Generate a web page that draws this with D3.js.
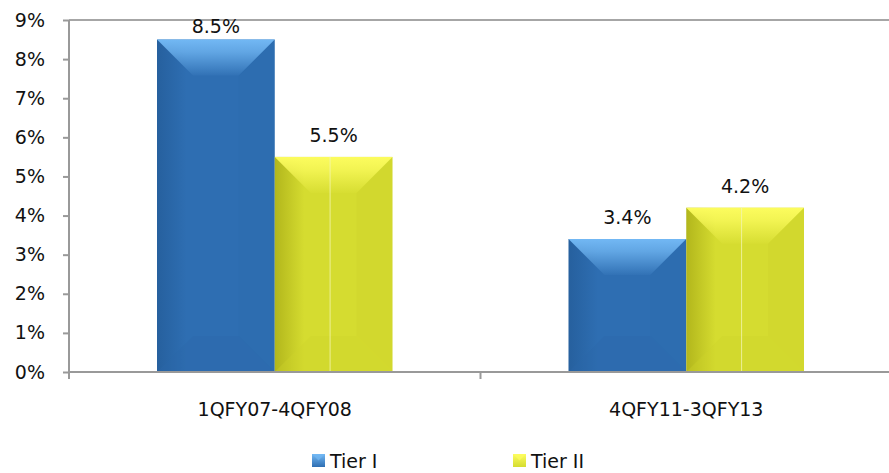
<!DOCTYPE html>
<html><head><meta charset="utf-8">
<script src="https://cdn.jsdelivr.net/npm/d3@7"></script>
<style>body{margin:0;background:#fff}svg{display:block}text{font-family:"DejaVu Sans",sans-serif;fill:#111}</style>
</head><body><svg id="c" width="889" height="473"></svg>
<script>
const categories = ["1QFY07-4QFY08", "4QFY11-3QFY13"];
const series = ["Tier I", "Tier II"];
const tierI = [8.5, 3.4];
const tierII = [5.5, 4.2];
const yTicks = [0,1,2,3,4,5,6,7,8,9];

(function(){
const svg = d3.select("#c");
const W = 889, H = 473;
const mL = 69, mR = 892, mT = 20, mB = 372;
const fs = 19;

const y = d3.scaleLinear().domain([0, 9]).range([mB, mT]);
const x0 = d3.scaleBand().domain(categories).range([mL, mR]).padding(0);
const x1 = d3.scaleBand().domain(series).range([88, x0.bandwidth() - 88]).padding(0);

const defs = svg.append("defs");
const pal = {
  "Tier I": {main:"#2e6eb2", dark:"#26609e", light:"#72b8f4", bot:"#2a66a8"},
  "Tier II": {main:"#d5dc30", dark:"#b2b61c", light:"#fcfc5e", bot:"#cfd42c"}
};
series.forEach((s,i)=>{
  const c = pal[s];
  const h = defs.append("linearGradient").attr("id","h"+i).attr("x1","0").attr("x2","1").attr("y1","0").attr("y2","0");
  h.append("stop").attr("offset","0").attr("stop-color",c.dark);
  h.append("stop").attr("offset","0.25").attr("stop-color",c.main);
  h.append("stop").attr("offset","1").attr("stop-color",c.main);
  const v = defs.append("linearGradient").attr("id","v"+i).attr("x1","0").attr("x2","0").attr("y1","0").attr("y2","1");
  v.append("stop").attr("offset","0").attr("stop-color",c.light).attr("stop-opacity",1);
  v.append("stop").attr("offset","0.35").attr("stop-color",c.light).attr("stop-opacity",0.75);
  v.append("stop").attr("offset","1").attr("stop-color",c.light).attr("stop-opacity",0.05);
  const lg = defs.append("linearGradient").attr("id","lg"+i).attr("x1","0").attr("x2","0").attr("y1","0").attr("y2","1");
  lg.append("stop").attr("offset","0").attr("stop-color",c.light);
  lg.append("stop").attr("offset","1").attr("stop-color",c.main);
});

svg.append("line").attr("x1", mL).attr("x2", W).attr("y1", mT).attr("y2", mT)
  .attr("stroke", "#a6a6a6").attr("stroke-width", 2);

const yAxis = d3.axisLeft(y).tickValues(yTicks).tickFormat(d => d + "%").tickSize(6).tickPadding(18);
const ga = svg.append("g").attr("transform", `translate(${mL},0)`).call(yAxis);
ga.select(".domain").remove();
ga.selectAll(".tick line").attr("stroke", "#999").attr("stroke-width", 2);
ga.selectAll(".tick text").attr("font-size", fs).attr("font-family", "DejaVu Sans").attr("fill", "#111");
svg.append("line").attr("x1", mL).attr("x2", mL).attr("y1", mT).attr("y2", mB + 7)
  .attr("stroke", "#999").attr("stroke-width", 2);

const data = [tierI, tierII];
const gBars = svg.append("g");
categories.forEach((cat, ci) => {
  series.forEach((s, si) => {
    const v = data[si][ci];
    const bx = x0(cat) + x1(s), bw = x1.bandwidth();
    const by = y(v), bh = y(0) - y(v);
    const c = pal[s];
    const g = gBars.append("g");
    g.append("rect").attr("x", bx).attr("y", by).attr("width", bw).attr("height", bh).attr("fill", `url(#h${si})`);
    const d = Math.min(36, bh / 2, bw / 2);
    g.append("path").attr("d", `M${bx},${by}L${bx+bw},${by}L${bx+bw-d},${by+d}L${bx+d},${by+d}Z`)
      .attr("fill", `url(#v${si})`);
    g.append("path").attr("d", `M${bx},${by+bh}L${bx+bw},${by+bh}L${bx+bw-d},${by+bh-d}L${bx+d},${by+bh-d}Z`)
      .attr("fill", c.bot).attr("opacity", 0.35);
    g.append("path").attr("d", `M${bx+bw},${by}L${bx+bw},${by+bh}L${bx+bw-d},${by+bh-d}L${bx+bw-d},${by+d}Z`)
      .attr("fill", c.dark).attr("opacity", 0.08);
    if (si === 1) {
      g.append("line").attr("x1", bx + bw * 0.47).attr("x2", bx + bw * 0.47).attr("y1", by).attr("y2", by + bh)
        .attr("stroke", "#f4f6b0").attr("stroke-width", 1).attr("opacity", 0.8);
    }
    svg.append("text").attr("x", bx + bw / 2).attr("y", Math.max(by - 15, 33))
      .attr("text-anchor", "middle").attr("font-size", fs).text(v.toFixed(1) + "%");
  });
});

svg.append("line").attr("x1", mL).attr("x2", W).attr("y1", mB).attr("y2", mB)
  .attr("stroke", "#999").attr("stroke-width", 2);
const xAxis = d3.axisBottom(x0).tickSize(0).tickPadding(31);
const gx = svg.append("g").attr("transform", `translate(0,${mB})`).call(xAxis);
gx.select(".domain").remove();
gx.selectAll(".tick text").attr("font-size", fs).attr("font-family", "DejaVu Sans").attr("fill", "#111");
svg.selectAll(".xb").data(categories.slice(1)).enter().append("line")
  .attr("x1", d => x0(d)).attr("x2", d => x0(d)).attr("y1", mB).attr("y2", mB + 7)
  .attr("stroke", "#999").attr("stroke-width", 2);

const legX = [312, 513];
series.forEach((s, i) => {
  const g = svg.append("g").attr("transform", `translate(${legX[i]},454)`);
  g.append("rect").attr("width", 13).attr("height", 13).attr("fill", `url(#lg${i})`);
  g.append("path").attr("d", "M0,0L13,0L6.5,6.5Z").attr("fill", pal[s].light).attr("opacity", 0.7);
  g.append("text").attr("x", 18).attr("y", 14).attr("font-size", fs).text(s);
});
})();
</script></body></html>
